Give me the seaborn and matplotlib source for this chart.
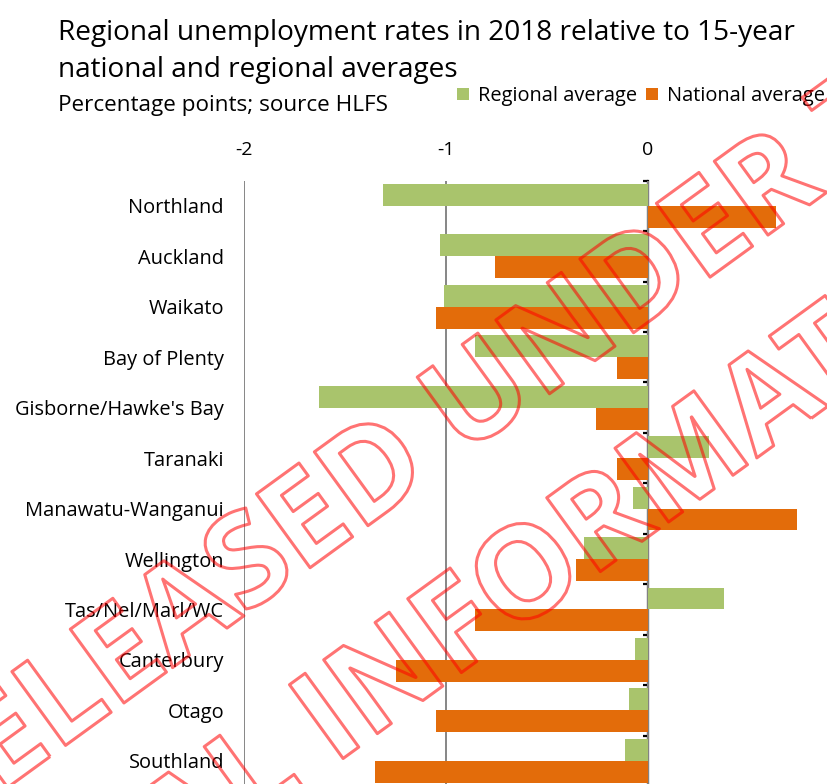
import numpy as np
import pandas as pd
import matplotlib
matplotlib.use("Agg")
import matplotlib.pyplot as plt
import matplotlib.patheffects as pe
import seaborn as sns

# ---- data ----
regions = ["Northland", "Auckland", "Waikato", "Bay of Plenty", "Gisborne/Hawke's Bay",
           "Taranaki", "Manawatu-Wanganui", "Wellington", "Tas/Nel/Marl/WC",
           "Canterbury", "Otago", "Southland"]
regional_avg = [-1.31, -1.03, -1.01, -0.855, -1.63, 0.30, -0.075, -0.315, 0.375, -0.065, -0.095, -0.115]
national_avg = [0.635, -0.755, -1.05, -0.155, -0.255, -0.155, 0.74, -0.355, -0.855, -1.25, -1.05, -1.35]
series_names = ["Regional average", "National average"]
xticks = [-2, -1, 0]
xtick_labels = ["-2", "-1", "0"]

title_lines = ["Regional unemployment rates in 2018 relative to 15-year",
               "national and regional averages"]
subtitle = "Percentage points; source HLFS"
watermark_lines = ["RELEASED UNDER THE", "OFFICIAL INFORMATION ACT"]

GREEN = "#A9C46C"
ORANGE = "#E36C0A"

df = pd.DataFrame({
    "region": regions * 2,
    "series": [series_names[0]] * len(regions) + [series_names[1]] * len(regions),
    "value": regional_avg + national_avg,
})

sns.set_theme(style="white")
plt.rcParams["font.family"] = ["Open Sans", "DejaVu Sans"]
plt.rcParams["text.color"] = "#000000"

W, H = 828, 784
fig = plt.figure(figsize=(W / 100, H / 100), dpi=100)
ax_top, ax_bot = 180.7, 786.0
ax = fig.add_axes([244 / W, 1 - ax_bot / H, 606 / W, (ax_bot - ax_top) / H])

sns.barplot(data=df, y="region", x="value", hue="series", order=regions,
            hue_order=series_names, palette=[GREEN, ORANGE], orient="h",
            width=0.867, saturation=1, linewidth=0, ax=ax)

ax.set_xlim(-2, 1)
ax.set_ylim(len(regions) - 0.5, -0.5)
ax.set_xlabel("")
ax.set_ylabel("")
ax.xaxis.set_ticks_position("top")
ax.set_xticks(xticks)
ax.set_xticklabels(xtick_labels)
ax.tick_params(axis="x", length=0, pad=15.6, labelsize=14, colors="#000000")
ax.tick_params(axis="y", length=0, pad=14.4, labelsize=14.4, colors="#000000")
for s in ax.spines.values():
    s.set_visible(False)
ax.set_axisbelow(True)
ax.grid(axis="x", color="#868686", linewidth=1.4)
ax.grid(axis="y", visible=False)

# zero axis with category-boundary ticks
sec = ax.secondary_yaxis(2 / 3)
sec.set_yticks(np.arange(len(regions) + 1) - 0.5)
sec.set_yticklabels([])
sec.tick_params(axis="y", direction="in", length=3.8, width=1.6, color="black")
for s in sec.spines.values():
    s.set_color("black")
    s.set_linewidth(1.6)

# legend
sns.move_legend(ax, "center left", bbox_to_anchor=(447 / W, 1 - 96 / H),
                bbox_transform=fig.transFigure, ncol=2, frameon=False, title=None,
                handlelength=0.6, handleheight=0.6, handletextpad=0.45,
                columnspacing=0.45, borderpad=0, fontsize=14.4,
                labelcolor="#000000")

# titles
fig.text(58 / W, 1 - 40 / H, title_lines[0], fontsize=20.2, ha="left", va="baseline",
         color="#000000")
fig.text(58 / W, 1 - 77 / H, title_lines[1], fontsize=20.2, ha="left", va="baseline",
         color="#000000")
fig.text(58 / W, 1 - 111 / H, subtitle, fontsize=16.2, ha="left", va="baseline",
         color="#000000")

# watermark
wm_style = dict(fontsize=92, family="Open Sans", weight="bold", color="none",
                rotation=36, rotation_mode="anchor", ha="center", va="baseline",
                path_effects=[pe.Stroke(linewidth=2.2, foreground=(1, 0, 0, 0.55),
                                        joinstyle="round")])
fig.text(490 / W, 1 - 437 / H, watermark_lines[0], **wm_style)
fig.text(575 / W, 1 - 590 / H, watermark_lines[1], **wm_style)

fig.savefig("out.png", dpi=100)
